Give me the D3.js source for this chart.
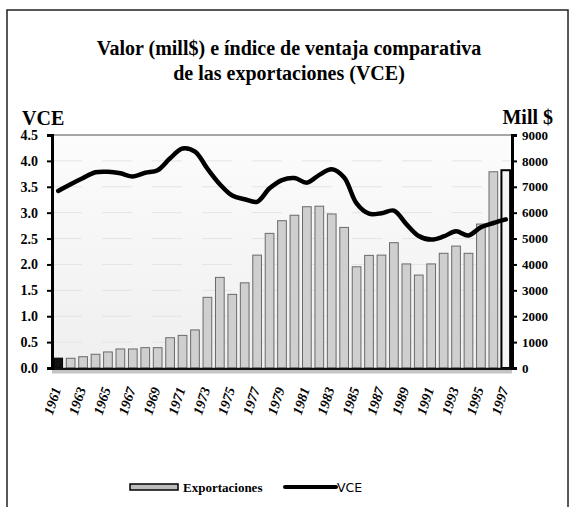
<!DOCTYPE html>
<html>
<head>
<meta charset="utf-8">
<script src="https://cdn.jsdelivr.net/npm/d3@7"></script>
<style>
  body { margin: 0; background: #fff; }
  svg { display: block; }
  .serif { font-family: "Liberation Serif", "DejaVu Serif", serif; font-weight: bold; }
</style>
</head>
<body>
<svg width="576" height="507"></svg>
<script>
// years 1961..1997
var years = [1961,1962,1963,1964,1965,1966,1967,1968,1969,1970,1971,1972,1973,1974,1975,1976,1977,1978,1979,1980,1981,1982,1983,1984,1985,1986,1987,1988,1989,1990,1991,1992,1993,1994,1995,1996,1997];

// exportaciones, mill $
var exportaciones = [380,375,436,530,620,735,735,785,785,1170,1260,1470,2730,3500,2845,3290,4360,5200,5690,5900,6230,6250,5950,5430,3910,4350,4360,4840,4020,3590,4020,4430,4710,4430,5560,7580,7640];

// indice VCE
var vce = [3.42,3.55,3.67,3.78,3.79,3.76,3.70,3.77,3.82,4.05,4.24,4.18,3.85,3.55,3.33,3.26,3.21,3.47,3.63,3.67,3.58,3.73,3.84,3.68,3.18,2.98,2.99,3.04,2.78,2.55,2.48,2.54,2.64,2.56,2.72,2.80,2.87];

var leftTicks = [0,0.5,1,1.5,2,2.5,3,3.5,4,4.5];
var rightTicks = [0,1000,2000,3000,4000,5000,6000,7000,8000,9000];
var labelYears = years.filter(function (d) { return (d - 1961) % 2 == 0; });

var svg = d3.select("svg");

var plotLeft = 52, plotRight = 512, plotTop = 135, plotBottom = 368;

var x = d3.scaleBand().domain(years).range([plotLeft, plotRight]).paddingInner(0.3).paddingOuter(0.15);
var yL = d3.scaleLinear().domain([0, 4.5]).range([plotBottom, plotTop]);
var yR = d3.scaleLinear().domain([0, 9000]).range([plotBottom, plotTop]);

// outer frame
svg.append("rect")
  .attr("x", 7).attr("y", 10).attr("width", 561).attr("height", 520)
  .attr("fill", "none").attr("stroke", "#222").attr("stroke-width", 1.5);

// title
var title = svg.append("text").attr("class", "serif")
  .attr("text-anchor", "middle").attr("font-size", 20);
title.append("tspan").attr("x", 289).attr("y", 55).text("Valor (mill$) e índice de ventaja comparativa");
title.append("tspan").attr("x", 289).attr("y", 80).text("de las exportaciones (VCE)");

// plot background
var grad = svg.append("defs").append("linearGradient")
  .attr("id", "bg").attr("x1", 0).attr("y1", 0).attr("x2", 0).attr("y2", 1);
grad.append("stop").attr("offset", "0%").attr("stop-color", "#fcfcfc");
grad.append("stop").attr("offset", "100%").attr("stop-color", "#efefef");
svg.append("rect")
  .attr("x", plotLeft).attr("y", plotTop).attr("width", plotRight - plotLeft).attr("height", plotBottom - plotTop)
  .attr("fill", "url(#bg)");

// faint grid
svg.append("g")
  .selectAll("line")
  .data(leftTicks.slice(1, -1))
  .enter()
  .append("line")
  .attr("x1", plotLeft).attr("x2", plotRight)
  .attr("y1", (d) => yL(d)).attr("y2", (d) => yL(d))
  .style("stroke", "#e4e4e4")
  .style("stroke-dasharray", "30,20");

// plot top border
svg.append("line")
  .attr("x1", plotLeft).attr("x2", plotRight).attr("y1", plotTop).attr("y2", plotTop)
  .style("stroke", "#888").style("stroke-width", 1.5);

// bars
svg.append("g")
  .selectAll("rect")
  .data(years)
  .enter()
  .append("rect")
  .attr("x", (d) => x(d))
  .attr("width", x.bandwidth())
  .attr("y", (d, i) => yR(exportaciones[i]))
  .attr("height", (d, i) => plotBottom - yR(exportaciones[i]))
  .attr("fill", function (d) {
    if (d == 1961) return "#111";
    if (d == 1997) return "#f6f6f6";
    return "#cfcfcf";
  })
  .attr("stroke", function (d) {
    if (d == 1997 || d == 1961) return "#000";
    return "#6a6a6a";
  })
  .attr("stroke-width", (d) => (d == 1997 ? 2 : 1));

// VCE line
var line = d3.line()
  .x((d, i) => x(years[i]) + x.bandwidth() / 2)
  .y((d) => yL(d))
  .curve(d3.curveCatmullRom.alpha(0.5));

svg.append("path")
  .datum(vce)
  .attr("d", line)
  .attr("fill", "none")
  .attr("stroke", "#000")
  .attr("stroke-width", 4.5)
  .attr("stroke-linejoin", "round")
  .attr("stroke-linecap", "round");

// bottom axis line
svg.append("line")
  .attr("x1", plotLeft).attr("x2", plotRight).attr("y1", plotBottom + 1).attr("y2", plotBottom + 1)
  .style("stroke", "#111").style("stroke-width", 2.5);
svg.append("rect")
  .attr("x", plotLeft).attr("y", plotBottom + 2.5).attr("width", plotRight - plotLeft).attr("height", 3)
  .attr("fill", "#c4c4c4");

// left axis
var axisL = svg.append("g")
  .attr("transform", "translate(" + plotLeft + ",0)")
  .call(d3.axisLeft(yL).tickValues(leftTicks).tickFormat(d3.format(".1f")).tickSize(5));
axisL.select(".domain").attr("stroke-width", 3);
axisL.selectAll(".tick line").attr("stroke-width", 2);
axisL.selectAll("text").attr("class", "serif").attr("font-size", 14).attr("fill", "#000").attr("x", -14);

// right axis
var axisR = svg.append("g")
  .attr("transform", "translate(" + plotRight + ",0)")
  .call(d3.axisRight(yR).tickValues(rightTicks).tickFormat(d3.format("d")).tickSize(5));
axisR.select(".domain").attr("stroke-width", 3);
axisR.selectAll(".tick line").attr("stroke-width", 2);
axisR.selectAll("text").attr("class", "serif").attr("font-size", 13).attr("fill", "#000").attr("x", 10);

// axis titles
svg.append("text").attr("class", "serif").attr("font-size", 20)
  .attr("x", 22).attr("y", 125).text("VCE");
svg.append("text").attr("class", "serif").attr("font-size", 20)
  .attr("x", 553).attr("y", 124).attr("text-anchor", "end").text("Mill $");

// x labels
svg.append("g")
  .selectAll("text")
  .data(labelYears)
  .enter()
  .append("text")
  .attr("class", "serif")
  .attr("font-size", 14)
  .attr("font-style", "italic")
  .attr("text-anchor", "end")
  .attr("transform", (d) => "translate(" + (x(d) + x.bandwidth() / 2 + 3) + "," + 389 + ") rotate(-72)")
  .text((d) => d);

// legend
var lg = svg.append("g");
lg.append("rect")
  .attr("x", 130).attr("y", 484).attr("width", 48).attr("height", 6)
  .attr("fill", "#bdbdbd").attr("stroke", "#000").attr("stroke-width", 1.5);
lg.append("text").attr("class", "serif").attr("font-size", 13)
  .attr("x", 183).attr("y", 492).text("Exportaciones");
lg.append("line")
  .attr("x1", 285).attr("x2", 336).attr("y1", 487).attr("y2", 487)
  .attr("stroke", "#000").attr("stroke-width", 4).attr("stroke-linecap", "round");
lg.append("text").attr("font-family", "'DejaVu Sans', sans-serif").attr("font-size", 12.5)
  .attr("x", 337).attr("y", 492).text("VCE");
</script>
</body>
</html>
